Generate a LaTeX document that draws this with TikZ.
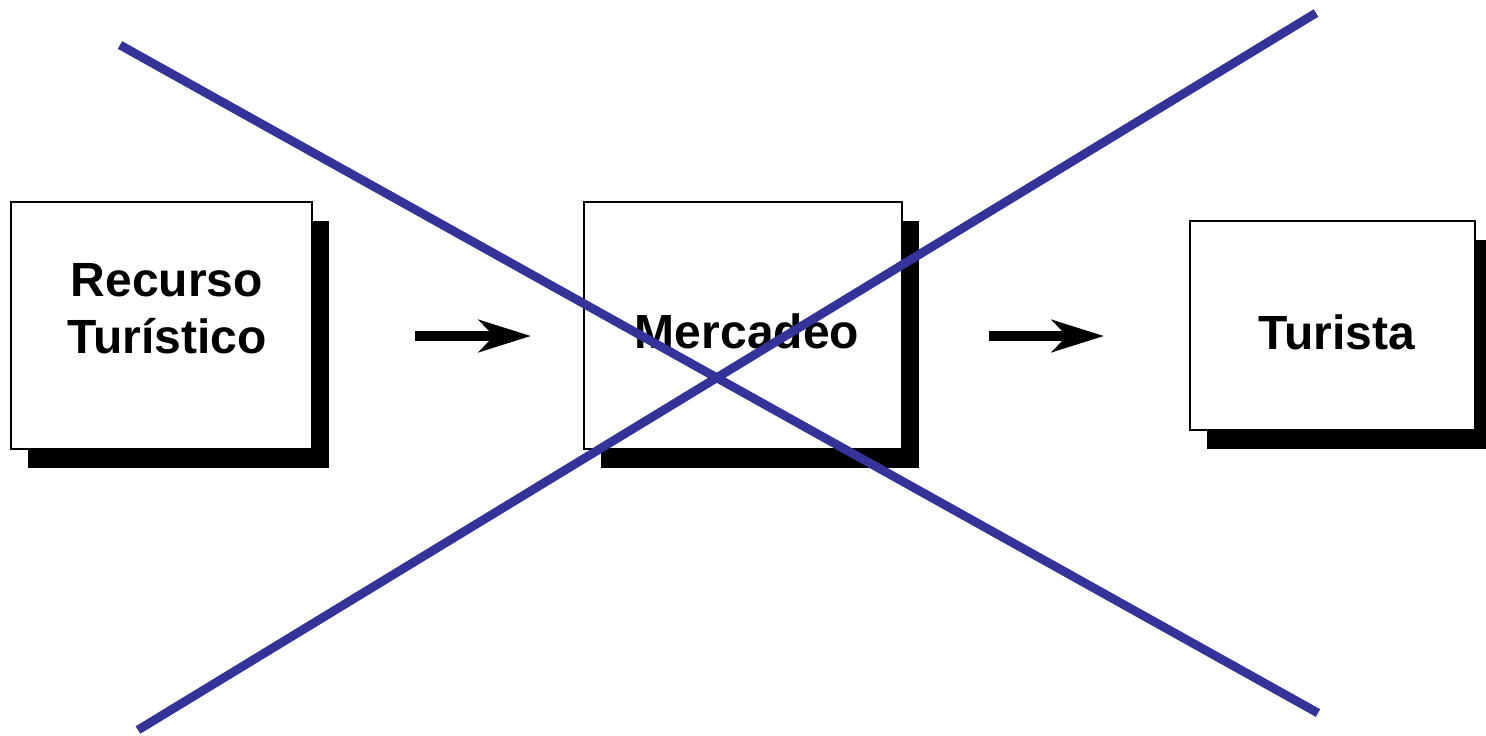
\documentclass[tikz,border=0pt]{standalone}
\usepackage{fontspec}
\setmainfont{Liberation Sans}
\usetikzlibrary{arrows.meta,shadows}
\definecolor{crossblue}{RGB}{51,51,153}

\begin{document}
\begin{tikzpicture}[
        x=0.5pt, y=-0.5pt,
        box/.style={draw, line width=1pt, fill=white, inner sep=0pt,
            drop shadow={shadow xshift=8.5pt, shadow yshift=-9.5pt, fill=black, opacity=1}},
        boxlabel/.style={font=\fontsize{24}{28.5}\selectfont\bfseries, align=center},
        flow/.style={-{Stealth[length=26pt, width=16pt, inset=7.5pt]}, line width=5.25pt},
        cross/.style={crossblue, line width=4.4pt}
    ]
        \useasboundingbox (0,0) rectangle (1486,735);

        % Boxes with drop shadows
        \node[box, minimum width=150.5pt, minimum height=123.5pt] (recurso) at (161.5,325.5) {};
        \node[box, minimum width=159pt, minimum height=123.5pt] (mercadeo) at (743,325.5) {};
        \node[box, minimum width=142.5pt, minimum height=104.5pt] (turista) at (1332.5,325.5) {};

        % Box texts
        \node[boxlabel] (recurso-text) at (167,308.5) {Recurso\\Turístico};
        \node[boxlabel] (mercadeo-text) at (747,331) {Mercadeo};
        \node[boxlabel] (turista-text) at (1336.5,332) {Turista};

        % Flow arrows
        \draw[flow, shorten <=51pt, shorten >=26pt]
            ([yshift=-5.25pt]recurso.east) -- ([yshift=-5.25pt]mercadeo.west);
        \draw[flow, shorten <=43pt, shorten >=42.5pt]
            ([yshift=-5.25pt]mercadeo.east) -- ([yshift=-5.25pt]turista.west);

        % Crossing out
        \draw[cross] (120,45) -- (1318,713);
        \draw[cross] (138,730) -- (1316,13);
    \end{tikzpicture}
\end{document}
